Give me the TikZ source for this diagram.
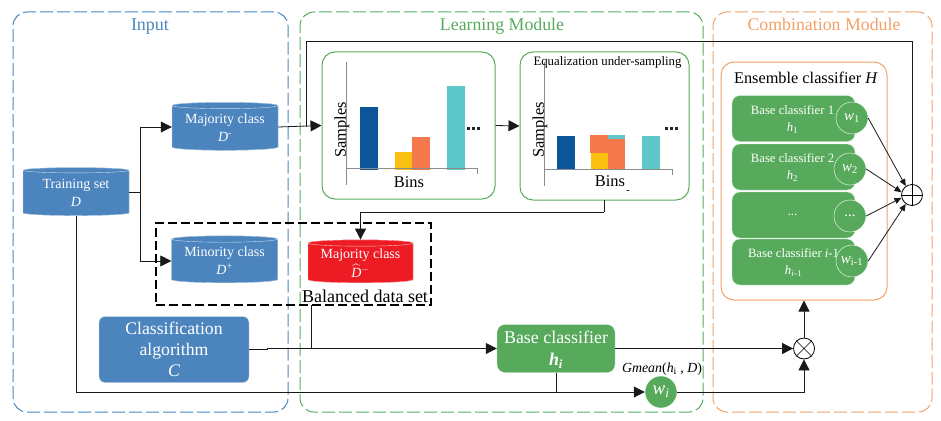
\documentclass[tikz,border=0pt]{standalone}
\usepackage{amsmath}
\usepackage{fontspec}
\setmainfont{Liberation Serif}
\usetikzlibrary{positioning, shapes.geometric, arrows.meta}
\definecolor{inblue}{HTML}{4C85BE}
\definecolor{ingreen}{HTML}{57AA5B}
\definecolor{inorange}{HTML}{F3A066}
\definecolor{inred}{HTML}{ED1C24}
\definecolor{barblue}{HTML}{0B5699}
\definecolor{baryellow}{HTML}{FAC010}
\definecolor{barorange}{HTML}{F4784B}
\definecolor{barteal}{HTML}{5EC7C9}
\begin{document}
\begin{tikzpicture}[x=1pt,y=-1pt,
module/.style={draw,dashed,dash pattern=on 13pt off 4pt,rounded corners=14pt,line width=1pt},
panel/.style={draw,rounded corners=13pt,line width=1pt},
store/.style={cylinder,shape border rotate=90,shape aspect=0.08,draw=white!70!inblue,fill=inblue,cylinder uses custom fill,cylinder end fill=inblue,cylinder body fill=inblue,text=white,align=center,inner sep=0pt,minimum width=106pt,minimum height=48pt,font=\fontsize{14}{18}\selectfont},
algo/.style={draw=white!75!inblue,fill=inblue,rounded corners=6pt,text=white,align=center,inner sep=0pt},
base/.style={draw=white!75!ingreen,fill=ingreen,rounded corners=8pt,text=white,align=center,inner sep=0pt,minimum width=123pt,minimum height=46pt,font=\fontsize{12.7}{17}\selectfont,text depth=0pt},
weight/.style={circle,draw=white,fill=ingreen,text=white,inner sep=0pt,minimum size=32pt,font=\fontsize{15}{16}\selectfont},
axis/.style={draw=gray!90,line width=0.7pt},
dots/.style={fill=black!85,minimum size=3pt,inner sep=0pt},
link/.style={draw=black!90,line width=0.8pt},
arrow/.style={link,-{Triangle[length=11pt,width=11pt]}},
thin arrow/.style={link,-{Triangle[length=7pt,width=6pt]}},
op/.style={circle,draw=black,fill=white,minimum size=21pt,inner sep=0pt,line width=0.8pt}
]
\useasboundingbox (0,0) rectangle (941,420);
% modules
\node[module,draw=inblue,minimum width=275pt,minimum height=400pt,inner sep=0pt] (input) at (150.5,212) {};
\node[module,draw=ingreen,minimum width=403pt,minimum height=400pt,inner sep=0pt] (learning) at (501.5,212) {};
\node[module,draw=inorange,minimum width=219pt,minimum height=400pt,inner sep=0pt] (combination) at (822.5,212) {};
\node[text=inblue,font=\fontsize{18}{20}\selectfont] (inputlabel) at (150,27) {Input};
\node[text=ingreen,font=\fontsize{17.8}{20}\selectfont] (learninglabel) at (502,26) {Learning Module};
\node[text=inorange,font=\fontsize{17.8}{20}\selectfont] (combinationlabel) at (824,24) {Combination Module};
% histogram panels
\node[panel,draw=ingreen,minimum width=173pt,minimum height=147pt,inner sep=0pt] (hist) at (408.5,125.5) {};
\node[panel,draw=ingreen,minimum width=169pt,minimum height=148pt,inner sep=0pt] (equal) at (604.5,126) {};
% first histogram
\fill[barblue] (360,107) rectangle (378,170);
\fill[baryellow] (395,152) rectangle (412,170);
\fill[barorange] (412,137) rectangle (430,170);
\fill[barteal] (447,86) rectangle (465,170);
\draw[axis] (346,62) -- (346,185);
\draw[axis] (346,168.5) -- (477,168.5) -- (477,174);
\node[dots] (d1) at (468,128) {};
\node[dots] (d2) at (473,128) {};
\node[dots] (d3) at (478,128) {};
\node[rotate=90,font=\fontsize{16.4}{18}\selectfont] (samplesa) at (342,130) {Samples};
\node[font=\fontsize{16.4}{18}\selectfont] (binsa) at (409,182) {Bins};
% second histogram
\fill[barblue] (557,136) rectangle (575,169);
\fill[barorange] (590,135) rectangle (625,153);
\fill[barorange] (608,153) rectangle (625,169);
\fill[baryellow] (591,153) rectangle (608,169);
\fill[barteal] (608,135) rectangle (625,139);
\fill[barteal] (642,136) rectangle (660,169);
\draw[axis] (544.5,62) -- (544.5,186);
\draw[axis] (544.5,169) -- (672.5,169) -- (672.5,175);
\node[dots] (d4) at (666,128) {};
\node[dots] (d5) at (671,128) {};
\node[dots] (d6) at (676,128) {};
\node[rotate=90,font=\fontsize{16.4}{18}\selectfont] (samplesb) at (540,130) {Samples};
\node[font=\fontsize{16.4}{18}\selectfont] (binsb) at (610,181) {Bins};
\node[font=\fontsize{11}{13}\selectfont] (tick) at (628,192) {-};
\node[font=\fontsize{12.8}{14}\selectfont] (equallabel) at (607.5,62) {Equalization under-sampling};
% stores
\node[store] (train) at (76,193) {Training set\\\textit{D}};
\node[store] (major) at (225,128) {Majority class\\\textit{D}\textsuperscript{-}};
\node[store,minimum height=47pt] (minor) at (224.5,261) {Minority class\\\textit{D}\textsuperscript{+}};
\node[store,draw=white!70!inred,fill=inred,cylinder end fill=inred,cylinder body fill=inred,minimum width=105pt,minimum height=43pt] (balmajor) at (360.5,263) {Majority class\\[1pt]$\widehat{\mathit{D}}^{-}$};
% balanced set
\node[draw,dashed,dash pattern=on 9pt off 4pt,line width=1.4pt,minimum width=275pt,minimum height=82pt,inner sep=0pt] (balanced) at (293.5,264) {};
\node[font=\fontsize{18}{20}\selectfont] (balancedlabel) at (365,296) {Balanced data set};
% classifiers
\node[algo,minimum width=150pt,minimum height=66pt,font=\fontsize{17.7}{21}\selectfont] (algo) at (174,349.5) {Classification\\algorithm\\\textit{C}};
\node[base,minimum width=118pt,minimum height=48pt,font=\fontsize{17.9}{22}\selectfont] (baseh) at (556,348.5) {Base classifier\\\textit{\textbf{h\textsubscript{i}}}};
\node[weight,font=\fontsize{19}{20}\selectfont] (wi) at (661,392) {\textit{w\textsubscript{i}}};
\node[font=\fontsize{13.9}{15}\selectfont] (gmean) at (662,369) {\textit{Gmean}(\textit{h}\textsubscript{i} , \textit{D})};
% ensemble
\node[panel,draw=inorange,minimum width=166pt,minimum height=238pt,inner sep=0pt] (ensemble) at (804,181) {};
\node[font=\fontsize{16.3}{18}\selectfont] (ensemblelabel) at (806,78) {Ensemble classifier \textit{H}};
\node[base] (baseone) at (793.5,118.5) {\hspace*{-2pt}Base classifier 1\\\hspace*{-2pt}\textit{h}\textsubscript{1}};
\node[base] (basetwo) at (793.5,167) {\hspace*{-2pt}Base classifier 2\\\hspace*{-2pt}\textit{h}\textsubscript{2}};
\node[base] (basedots) at (793.5,215) {\hspace*{-2pt}...};
\node[base] (baselast) at (793.5,262) {Base classifier \textit{i}-1\\\textit{h\textsubscript{i}}\textsubscript{-1}};
\node[weight] (wone) at (852,118) {\textit{w}\textsubscript{1}};
\node[weight] (wtwo) at (850,169) {\textit{w}\textsubscript{2}};
\node[weight] (wdots) at (850,216) {...};
\node[weight] (wlast) at (852,261) {\textit{w}\textsubscript{i-1}};
% operators
\node[op] (plus) at (912,195) {};
\draw (plus.north) -- (plus.south) (plus.west) -- (plus.east);
\node[op] (times) at (804,348.5) {};
\draw (times.north west) -- (times.south east) (times.north east) -- (times.south west);
% connectors
\coordinate (fork) at (140,192);
\draw[link] (train.east |- fork) -- (fork);
\draw[arrow] (fork) |- (major.west |- 225,127);
\draw[arrow] (fork) |- (minor.west);
\draw[arrow] (major.east |- 225,127) -- (hist.west);
\coordinate (tap) at (306,127);
\draw[link] (tap) |- (912,41) -- (plus.north);
\draw[arrow] (hist.east) -- (equal.west);
\coordinate (down) at (604,212);
\draw[link] (604,200) -- (down);
\draw[arrow] (down) -| (balmajor.north);
\draw[arrow] (train.south) |- (wi.west);
\coordinate (jog) at (267,349.5);
\draw[arrow] (algo.east) -- (jog) |- (baseh.west);
\draw[link] (311,305) -- (311,348.5);
\draw[link] (baseh.south) -- ++(0,19);
\draw[arrow] (baseh.east) -- (times.west);
\draw[arrow] (wi.east) -| (times.south);
\draw[arrow] (times.north) -- (ensemble.south -| times.north);
\draw[thin arrow] (wone.east) -- (plus.125);
\draw[thin arrow] (wtwo.east) -- (plus.165);
\draw[thin arrow] (wdots.east) -- (plus.195);
\draw[thin arrow] (wlast.east) -- (plus.235);
\end{tikzpicture}
\end{document}
